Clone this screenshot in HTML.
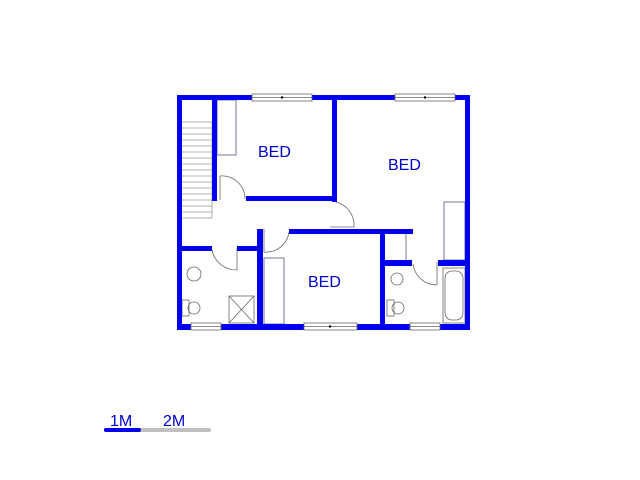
<!DOCTYPE html>
<html><head><meta charset="utf-8"><style>html,body{margin:0;padding:0;background:#fff}svg{display:block}</style></head>
<body>
<svg width="640" height="480" viewBox="0 0 640 480" xmlns="http://www.w3.org/2000/svg">
<g fill="none" stroke="#666" stroke-width="0.8">
<g stroke="#999">
<line x1="182" y1="122" x2="212" y2="122"/><line x1="182" y1="128" x2="212" y2="128"/><line x1="182" y1="134" x2="212" y2="134"/><line x1="182" y1="140" x2="212" y2="140"/><line x1="182" y1="146" x2="212" y2="146"/><line x1="182" y1="152" x2="212" y2="152"/><line x1="182" y1="158" x2="212" y2="158"/><line x1="182" y1="164" x2="212" y2="164"/><line x1="182" y1="170" x2="212" y2="170"/><line x1="182" y1="176" x2="212" y2="176"/><line x1="182" y1="182" x2="212" y2="182"/><line x1="182" y1="188" x2="212" y2="188"/><line x1="182" y1="194" x2="212" y2="194"/><line x1="182" y1="200" x2="212" y2="200"/><line x1="182" y1="206" x2="212" y2="206"/><line x1="182" y1="212" x2="212" y2="212"/><line x1="182" y1="218" x2="212" y2="218"/><line x1="212" y1="122" x2="212" y2="218"/>
</g>
<rect x="217" y="100" width="19" height="55" stroke="#558"/>
<rect x="444" y="202" width="21" height="58" stroke="#558"/>
<rect x="264" y="258" width="20" height="66" stroke="#558"/>
<line x1="406" y1="234" x2="406" y2="260" stroke="#558"/>
<path d="M220 176 L220 200 M220 176 A23 23 0 0 1 245 199"/>
<path d="M330 227 L354 227 M354 227 A24 24 0 0 0 336 202"/>
<path d="M264 229 L264 252 M264 252 A23 23 0 0 0 289 232" />
<path d="M237 248 L237 270 M237 270 A25 25 0 0 1 212 250"/>
<path d="M437 262 L437 285 M437 285 A24 24 0 0 1 413 264"/>
<circle cx="194" cy="274" r="7"/><circle cx="194" cy="308" r="6"/><rect x="182" y="300" width="7" height="16"/>
<rect x="229" y="296" width="25" height="27"/><path d="M229 296 L254 323 M254 296 L229 323"/>
<circle cx="397" cy="279" r="6"/><circle cx="398" cy="308" r="6"/><rect x="387" y="300" width="7" height="16"/>
<rect x="443" y="268" width="22" height="55"/><rect x="445" y="271" width="18" height="49" rx="7"/>
</g>
<g fill="#0000ee">
<rect x="177" y="95" width="293" height="5"/>
<rect x="177" y="95" width="5" height="235"/>
<rect x="465" y="95" width="5" height="235"/>
<rect x="177" y="324" width="293" height="6"/>
<rect x="212" y="95" width="5" height="106"/>
<rect x="332" y="95" width="5" height="107"/>
<rect x="246" y="196" width="91" height="5"/>
<rect x="289" y="229" width="124" height="5"/>
<rect x="257" y="229" width="6" height="101"/>
<rect x="177" y="246" width="35" height="5"/>
<rect x="237" y="246" width="25" height="5"/>
<rect x="380" y="229" width="5" height="101"/>
<rect x="380" y="260" width="32" height="6"/>
<rect x="438" y="260" width="32" height="6"/>
</g>
<g fill="#fff" stroke="#666" stroke-width="0.8">
<rect x="252" y="94" width="60" height="7"/><line x1="252" y1="97.5" x2="312" y2="97.5"/>
<rect x="395" y="94" width="60" height="7"/><line x1="395" y1="97.5" x2="455" y2="97.5"/>
<rect x="191" y="323" width="30" height="7"/><line x1="191" y1="326.5" x2="221" y2="326.5"/>
<rect x="304" y="323" width="53" height="7"/><line x1="304" y1="326.5" x2="357" y2="326.5"/>
<rect x="410" y="323" width="30" height="7"/><line x1="410" y1="326.5" x2="440" y2="326.5"/>
</g>
<g fill="#000"><circle cx="282" cy="97.5" r="1.2"/><circle cx="425" cy="97.5" r="1.2"/><circle cx="330" cy="326.5" r="1.2"/></g>
<g font-family="Liberation Sans, sans-serif" font-size="16" fill="#0000cc">
<text x="258" y="157">BED</text>
<text x="388" y="170">BED</text>
<text x="308" y="287">BED</text>
<text x="110" y="426">1M</text>
<text x="163" y="426">2M</text>
</g>
<line x1="106" y1="430" x2="209" y2="430" stroke="#c0c0c0" stroke-width="4" stroke-linecap="round"/>
<line x1="106" y1="430" x2="139" y2="430" stroke="#0000ee" stroke-width="4" stroke-linecap="round"/>
</svg>
</body></html>
